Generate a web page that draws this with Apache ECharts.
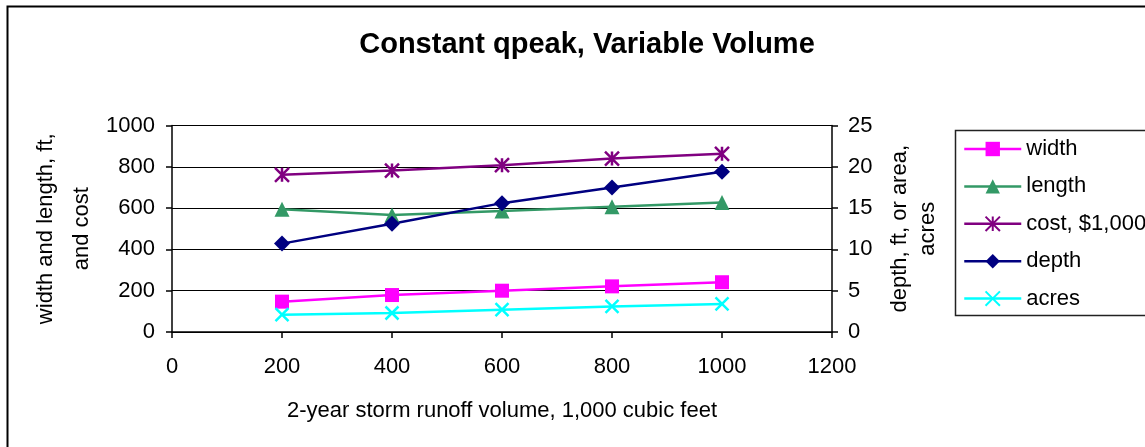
<!DOCTYPE html>
<html>
<head>
<meta charset="utf-8">
<script src="https://cdn.jsdelivr.net/npm/echarts@6/dist/echarts.min.js"></script>
<style>
html,body{margin:0;padding:0;background:#fff;}
#chart{width:1145px;height:447px;}
</style>
</head>
<body>
<div id="chart"></div>
<script>
const xValues = [200, 400, 600, 800, 1000];
const widthFt = [147, 179, 200, 221, 241];
const lengthFt = [594, 567, 586, 607, 627];
const costK = [761, 782, 808, 840, 863];
const depthFt = [10.7, 13.1, 15.6, 17.5, 19.4];
const acres = [2.1, 2.3, 2.7, 3.1, 3.4];

const titleText = 'Constant qpeak, Variable Volume';
const xName = '2-year storm runoff volume, 1,000 cubic feet';
const yLeftName = 'width and length, ft,\nand cost';
const yRightName = 'depth, ft, or area,\nacres';

const FONT = "'Liberation Sans', Arial, sans-serif";
const pairs = arr => xValues.map((x, i) => [x, arr[i]]);
const plain = v => String(v);

const xSym = 'path://M0,0L20,20M20,0L0,20';
const starSym = 'path://M0,0L20,20M20,0L0,20M10,0L10,20';

function mk(name, data, color, symbol, size, yIdx, strokeOnly) {
  return {
    name: name, type: 'line', yAxisIndex: yIdx, data: pairs(data),
    symbol: symbol, symbolSize: size, showAllSymbol: true,
    lineStyle: { color: color, width: 2.5 },
    itemStyle: strokeOnly ? { color: color, borderColor: color, borderWidth: 2.5 } : { color: color, borderWidth: 0 },
    emphasis: { disabled: true }, animation: false, z: 3
  };
}

const chart = echarts.init(document.getElementById('chart'));
chart.setOption({
  animation: false,
  backgroundColor: '#fff',
  textStyle: { fontFamily: FONT },
  title: {
    text: titleText, left: 582, top: 25, textAlign: 'center',
    textStyle: { fontFamily: FONT, fontSize: 29, fontWeight: 'bold', color: '#000' }
  },
  graphic: [
    { type: 'rect', silent: true, shape: { x: 7.5, y: 6.5, width: 1300, height: 600 }, style: { fill: 'none', stroke: '#000', lineWidth: 2 } },
    { type: 'rect', silent: true, shape: { x: 955.5, y: 130.5, width: 300, height: 185 }, style: { fill: 'none', stroke: '#222', lineWidth: 1.5 } }
  ],
  legend: {
    left: 963, top: 138, padding: 0, orient: 'vertical', itemWidth: 57, itemHeight: 18, itemGap: 15.4,
    lineStyle: { width: 2.5 },
    textStyle: { fontFamily: FONT, fontSize: 22, color: '#000', padding: [0, 0, 0, 0] },
    data: ['width', 'length', 'cost, $1,000', 'depth', 'acres']
  },
  grid: { left: 172, right: 313, top: 125.5, bottom: 115, containLabel: false },
  xAxis: {
    type: 'value', min: 0, max: 1200, interval: 200,
    name: xName, nameLocation: 'middle', nameGap: 68,
    nameTextStyle: { fontFamily: FONT, fontSize: 22, color: '#000' },
    axisLine: { show: true, onZero: false, lineStyle: { color: '#000', width: 1.5 } },
    axisTick: { show: true, length: 6, lineStyle: { color: '#000', width: 1.5 } },
    axisLabel: { fontFamily: FONT, fontSize: 22, color: '#000', margin: 24, formatter: plain },
    splitLine: { show: false }
  },
  yAxis: [
    {
      type: 'value', min: 0, max: 1000, interval: 200, position: 'left',
      name: yLeftName, nameLocation: 'middle', nameRotate: 90, nameGap: 72, nameMoveOverlap: false,
      nameTextStyle: { fontFamily: FONT, fontSize: 22, color: '#000', lineHeight: 36 },
      axisLine: { show: true, lineStyle: { color: '#000', width: 1.5 } },
      axisTick: { show: true, length: 6, lineStyle: { color: '#000', width: 1.5 } },
      axisLabel: { fontFamily: FONT, fontSize: 22, color: '#000', margin: 17, formatter: plain },
      splitLine: { show: true, lineStyle: { color: '#000', width: 1.2 } }
    },
    {
      type: 'value', min: 0, max: 25, interval: 5, position: 'right',
      name: yRightName, nameLocation: 'middle', nameRotate: 90, nameGap: 54,
      nameTextStyle: { fontFamily: FONT, fontSize: 22, color: '#000', lineHeight: 28 },
      axisLine: { show: true, lineStyle: { color: '#000', width: 1.5 } },
      axisTick: { show: true, length: 6, lineStyle: { color: '#000', width: 1.5 } },
      axisLabel: { fontFamily: FONT, fontSize: 22, color: '#000', margin: 16, formatter: plain },
      splitLine: { show: false }
    }
  ],
  series: [
    mk('width', widthFt, '#FF00FF', 'rect', 14, 0, false),
    mk('length', lengthFt, '#339966', 'triangle', 15, 0, false),
    mk('cost, $1,000', costK, '#800080', starSym, 14, 0, true),
    mk('depth', depthFt, '#000080', 'diamond', 16, 1, false),
    mk('acres', acres, '#00FFFF', xSym, 13, 1, true)
  ]
});
</script>
</body>
</html>
